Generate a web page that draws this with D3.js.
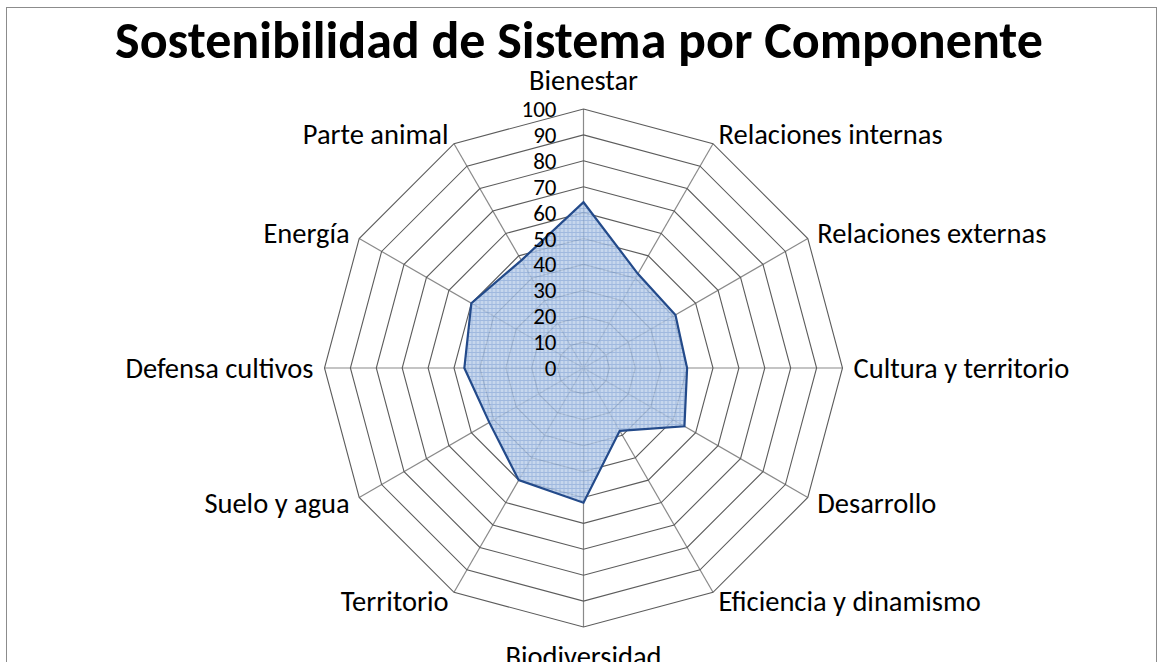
<!DOCTYPE html>
<html>
<head>
<meta charset="utf-8">
<script src="https://cdn.jsdelivr.net/npm/d3@7"></script>
<style>
  body { margin: 0; background: #fff; }
  text { font-family: Calibri, Carlito, Lato, sans-serif; fill: #000; }
</style>
</head>
<body>
<div id="chart"></div>
<script>
'use strict';

// chart data
var categories = ['Bienestar', 'Relaciones internas', 'Relaciones externas', 'Cultura y territorio',
  'Desarrollo', 'Eficiencia y dinamismo', 'Biodiversidad', 'Territorio', 'Suelo y agua',
  'Defensa cultivos', 'Energía', 'Parte animal'];
var values = [64, 42, 41, 40, 45, 28, 52, 50, 42, 46, 50, 48];
var tickValues = [0, 10, 20, 30, 40, 50, 60, 70, 80, 90, 100];
var title = 'Sostenibilidad de Sistema por Componente';

var radar = {};
radar.w = 1163;
radar.h = 662;
radar.cx = 583.5;
radar.cy = 368;
radar.R = 259;

var svg = d3.select('#chart').append('svg')
  .attr('width', radar.w)
  .attr('height', radar.h);

// outer frame of the chart area
svg.append('rect')
  .attr('x', 6.5).attr('y', 7.5)
  .attr('width', 1150).attr('height', 720)
  .attr('fill', 'none')
  .attr('stroke', '#8c8c8c')
  .attr('stroke-width', 1);

svg.append('text')
  .attr('x', 579)
  .attr('y', 58)
  .attr('text-anchor', 'middle')
  .style('font-size', '52px')
  .style('font-weight', 'bold')
  .text(title);

var rScale = d3.scaleLinear().domain([0, 100]).range([0, radar.R]);
var aScale = d3.scaleLinear().domain([0, categories.length]).range([0, 2 * Math.PI]);

var defs = svg.append('defs');
var pat = defs.append('pattern')
  .attr('id', 'fillPat')
  .attr('patternUnits', 'userSpaceOnUse')
  .attr('width', 4).attr('height', 4);
pat.append('rect').attr('width', 4).attr('height', 4).attr('fill', '#bdd0ea');
pat.append('path').attr('d', 'M0,0.5H4M0.5,0V4')
  .attr('stroke', '#8fadd9').attr('stroke-width', 1);

var g = svg.append('g')
  .attr('transform', 'translate(' + radar.cx + ',' + radar.cy + ')');

var ringLine = d3.lineRadial()
  .angle(function (d, i) { return aScale(i); })
  .radius(function (d) { return rScale(d); })
  .curve(d3.curveLinearClosed);

// spokes
g.selectAll('.spoke').data(categories).enter()
  .append('line')
  .attr('class', 'spoke')
  .attr('x1', 0).attr('y1', 0)
  .attr('x2', function (d, i) { return rScale(100) * Math.sin(aScale(i)); })
  .attr('y2', function (d, i) { return -rScale(100) * Math.cos(aScale(i)); })
  .attr('stroke', '#8a8a8a')
  .attr('stroke-width', 1.2);

// rings
g.selectAll('.ring').data(tickValues.slice(1)).enter()
  .append('path')
  .attr('class', 'ring')
  .attr('d', function (t) { return ringLine(categories.map(function () { return t; })); })
  .attr('fill', 'none')
  .attr('stroke', '#5c5c5c')
  .attr('stroke-width', 1.1);

// series
g.append('path')
  .attr('d', ringLine(values))
  .attr('fill', 'url(#fillPat)')
  .attr('fill-opacity', 0.85)
  .attr('stroke', '#234a8a')
  .attr('stroke-width', 2.2)
  .attr('stroke-linejoin', 'miter');

// value axis labels
g.selectAll('.tick').data(tickValues).enter()
  .append('text')
  .attr('class', 'tick')
  .attr('x', -27)
  .attr('y', function (t) { return -rScale(t); })
  .attr('text-anchor', 'end')
  .attr('dominant-baseline', 'central')
  .style('font-size', '23px')
  .text(function (t) { return t; });

// category labels
g.selectAll('.cat').data(categories).enter()
  .append('text')
  .attr('class', 'cat')
  .each(function (d, i) {
    var a = aScale(i);
    var s = Math.sin(a), c = Math.cos(a);
    var r = rScale(100) + 11;
    var x = r * s, y = -r * c;
    var anchor = Math.abs(s) < 0.01 ? 'middle' : (s > 0 ? 'start' : 'end');
    if (c > 0.99) y -= 18;
    if (c < -0.99) y += 18;
    d3.select(this)
      .attr('x', x).attr('y', y)
      .attr('text-anchor', anchor)
      .attr('dominant-baseline', 'central')
      .style('font-size', '28.5px')
      .text(d);
  });
</script>
</body>
</html>
